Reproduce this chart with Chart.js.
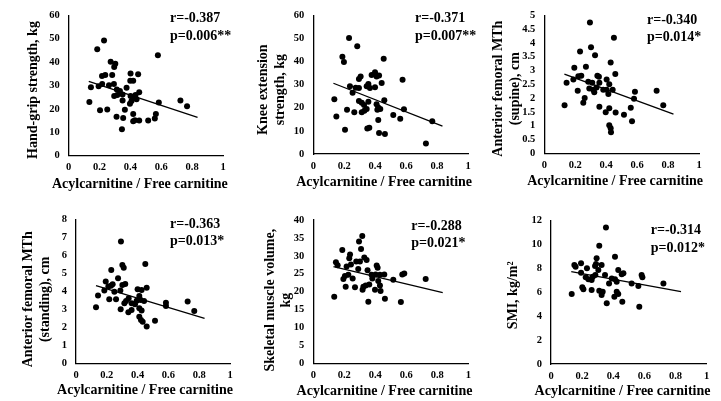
<!DOCTYPE html>
<html>
<head>
<meta charset="utf-8">
<script src="https://cdn.jsdelivr.net/npm/chart.js@4.4.1/dist/chart.umd.min.js"></script>
<style>
body { margin: 0; background: #fff; }
#wrap { position: relative; width: 721px; height: 401px; }
#wrap canvas { position: absolute; }
</style>
</head>
<body>
<div id="wrap"></div>
<script>
// values (x = acylcarnitine / free carnitine ratio)
var xTicks = [0, 0.2, 0.4, 0.6, 0.8, 1];
var xTitle = 'Acylcarnitine / Free carnitine';

var gripX = [0.229,0.185,0.578,0.272,0.302,0.295,0.216,0.237,0.282,0.401,0.45,0.399,0.418,0.144,0.194,0.217,0.261,0.293,0.312,0.332,0.349,0.295,0.315,0.375,0.401,0.418,0.433,0.457,0.407,0.44,0.397,0.349,0.134,0.584,0.724,0.767,0.203,0.25,0.364,0.418,0.31,0.353,0.565,0.558,0.418,0.457,0.515,0.429,0.345];
var gripY = [49.2,45.5,42.9,40.1,39.3,37.9,34.1,34.5,34.5,35.1,34.8,32.0,32.0,29.2,29.7,30.6,30.1,30.6,28.3,27.6,26.2,25.5,25.9,29.0,25.5,24.8,25.9,27.1,23.4,24.1,22.2,23.6,22.9,22.7,23.6,21.1,19.4,19.7,19.6,17.8,16.6,16.1,17.8,15.9,14.7,15.0,15.0,15.2,11.3];

var kneeX = [0.231,0.284,0.188,0.198,0.455,0.399,0.377,0.425,0.409,0.306,0.295,0.577,0.442,0.356,0.345,0.366,0.399,0.237,0.274,0.295,0.254,0.136,0.295,0.313,0.328,0.356,0.459,0.409,0.42,0.433,0.414,0.218,0.265,0.313,0.33,0.345,0.586,0.149,0.517,0.562,0.42,0.769,0.205,0.349,0.362,0.425,0.463,0.728];
var kneeY = [50.2,46.6,42.1,39.8,41.2,35.4,34.2,34.0,33.5,33.5,32.4,32.1,30.7,30.3,29.3,28.6,28.9,29.3,28.7,28.5,26.5,23.7,22.9,22.2,21.2,22.6,23.2,21.5,20.1,19.5,19.1,19.1,18.1,18.1,18.7,19.5,19.4,16.2,16.9,15.2,14.7,14.2,10.5,11.0,11.4,9.1,8.7,4.5];

var supineX = [0.295,0.45,0.302,0.231,0.328,0.429,0.194,0.269,0.459,0.220,0.239,0.343,0.353,0.403,0.144,0.284,0.310,0.356,0.420,0.216,0.291,0.317,0.381,0.403,0.442,0.323,0.414,0.586,0.726,0.261,0.580,0.131,0.252,0.769,0.356,0.420,0.559,0.397,0.461,0.515,0.567,0.420,0.429,0.431,0.188,0.338];
var supineY = [4.74,4.19,3.84,3.69,3.55,3.29,3.10,3.14,2.87,2.79,2.81,2.81,2.77,2.67,2.56,2.59,2.56,2.56,2.50,2.27,2.35,2.30,2.30,2.30,2.30,2.21,2.15,2.23,2.27,2.00,1.98,1.74,1.83,1.74,1.69,1.63,1.65,1.49,1.48,1.40,1.16,1.02,0.91,0.76,2.67,2.38];

var standX = [0.292,0.301,0.31,0.45,0.229,0.273,0.193,0.227,0.21,0.238,0.301,0.32,0.184,0.249,0.288,0.4,0.426,0.459,0.143,0.216,0.26,0.342,0.325,0.411,0.42,0.442,0.314,0.361,0.383,0.394,0.584,0.584,0.725,0.13,0.29,0.361,0.411,0.426,0.768,0.34,0.411,0.422,0.433,0.513,0.459];
var standY = [6.76,5.46,5.31,5.52,5.19,4.72,4.54,4.31,4.26,4.39,4.35,4.41,4.04,3.98,4.04,4.11,4.07,4.20,3.76,3.56,3.56,3.61,3.46,3.74,3.52,3.46,3.33,3.33,3.28,3.48,3.37,3.19,3.43,3.11,3.0,2.96,3.06,2.93,2.91,2.83,2.59,2.41,2.31,2.37,2.04];

var smvX = [0.316,0.295,0.187,0.308,0.237,0.232,0.329,0.344,0.277,0.301,0.146,0.157,0.215,0.243,0.409,0.415,0.35,0.29,0.226,0.204,0.376,0.402,0.43,0.458,0.574,0.587,0.194,0.254,0.381,0.419,0.516,0.725,0.209,0.269,0.323,0.338,0.361,0.43,0.398,0.318,0.434,0.135,0.462,0.355,0.565];
var smvY = [35.5,34.0,31.6,31.9,30.4,29.3,29.5,28.8,28.4,28.4,28.2,27.4,27.0,27.6,27.3,26.7,26.0,26.3,24.7,24.4,24.7,24.8,24.7,24.8,24.8,25.1,23.5,23.7,23.7,23.0,23.3,23.5,21.4,21.2,21.4,21.7,22.0,21.7,20.5,20.5,20.2,18.6,18.0,17.2,17.1];

var smiX = [0.353,0.31,0.411,0.293,0.15,0.193,0.158,0.283,0.289,0.325,0.231,0.432,0.193,0.304,0.347,0.454,0.465,0.582,0.587,0.223,0.24,0.261,0.285,0.268,0.39,0.411,0.422,0.518,0.722,0.373,0.561,0.208,0.201,0.261,0.31,0.332,0.133,0.325,0.422,0.432,0.407,0.458,0.358,0.567];
var smiY = [11.44,9.91,8.99,8.85,8.29,8.43,8.15,8.2,8.37,8.29,8.01,7.87,7.65,7.87,7.45,7.51,7.59,7.45,7.26,7.26,7.09,7.03,7.45,7.3,7.17,7.09,6.89,6.75,6.75,6.75,6.53,6.25,6.42,6.2,6.14,6.06,5.86,5.78,6.06,5.86,5.64,5.22,5.08,4.8];

// regression lines: x range and fitted y at both ends
var trendX = [0.13, 0.835];
var gripTrend = [31.8, 16.4];
var kneeTrend = [30.6, 12.1];
var supineTrend = [2.87, 1.42];
var standTrend = [4.31, 2.5];
var smvTrend = [27.0, 19.7];
var smiTrend = [7.73, 6.06];

var rTexts = ['r=-0.387', 'r=-0.371', 'r=-0.340', 'r=-0.363', 'r=-0.288', 'r=-0.314'];
var pTexts = ['p=0.006**', 'p=0.007**', 'p=0.014*', 'p=0.013*', 'p=0.021*', 'p=0.012*'];

// y axis: max, step, title lines
var yMaxes = [60, 60, 5, 8, 40, 12];
var ySteps = [10, 10, 0.5, 1, 5, 2];
var yTitles = [
  ['Hand-grip strength, kg'],
  ['Knee extension', 'strength, kg'],
  ['Anterior femoral MTh', '(supine), cm'],
  ['Anterior femoral MTh', '(standing), cm'],
  ['Skeletal muscle volume,', 'kg'],
  ['SMI, kg/m\u00b2']
];

var seriesX = [gripX, kneeX, supineX, standX, smvX, smiX];
var seriesY = [gripY, kneeY, supineY, standY, smvY, smiY];
var trends = [gripTrend, kneeTrend, supineTrend, standTrend, smvTrend, smiTrend];

// layout of each panel: canvas box, plot area, title offsets, stat text offset
var boxes = [[0,0,240,200],[240,0,240,200],[480,0,241,200],[0,200,240,201],[240,200,240,201],[480,200,241,201]];
var areas = [[68.7,12.7,223,155.7],[313.3,10.7,468,154],[544.3,10,699,153.3],[76,219.3,230,363.3],[313.3,220,468.3,363.3],[551,220.7,706.7,364]];
var yTitlePos = [[33,4.5],[23.3,5],[18.3,4.4],[28.3,8],[30,8.5],[33.3,3]];   // from canvas left, shift down
var xTitlePos = [[-6,16],[-6.5,17.3],[-6.5,18.3],[-8,10.3],[-6.3,9.3],[-6.3,9.3]]; // shift, from canvas bottom
var statPos = [[-53,3.5],[-53,3.5],[-52,5],[-60,5],[-57,6],[-56,10]];

Chart.defaults.font.family = '"Liberation Serif", "Times New Roman", serif';
Chart.defaults.color = '#000';

var titleFont = 'bold 14px "Liberation Serif", serif';

// axis titles and r / p text
var panelText = {
  id: 'panelText',
  afterDraw: function(chart, args, o) {
    var ctx = chart.ctx, a = chart.chartArea;
    ctx.save();
    ctx.font = titleFont;
    ctx.fillStyle = '#000';
    ctx.textBaseline = 'middle';

    ctx.textAlign = 'left';
    ctx.fillText(o.r, a.right + o.stat[0], a.top + o.stat[1]);
    ctx.fillText(o.p, a.right + o.stat[0], a.top + o.stat[1] + 17.5);

    ctx.textAlign = 'center';
    ctx.fillText(xTitle, (a.left + a.right) / 2 + o.xPos[0], chart.height - o.xPos[1]);

    ctx.translate(o.yPos[0], (a.top + a.bottom) / 2 + o.yPos[1]);
    ctx.rotate(-Math.PI / 2);
    o.yLines.forEach(function(t, k) { ctx.fillText(t, 0, k * 16.8); });
    ctx.restore();
  }
};

function fmt(v) { return String(+v.toFixed(2)); }

var wrap = document.getElementById('wrap');

for (var i = 0; i < 6; i++) {
  var b = boxes[i], ar = areas[i];
  var cv = document.createElement('canvas');
  cv.width = b[2]; cv.height = b[3];
  cv.style.left = b[0] + 'px'; cv.style.top = b[1] + 'px';
  cv.style.width = b[2] + 'px'; cv.style.height = b[3] + 'px';
  wrap.appendChild(cv);

  var pts = seriesX[i].map(function(x, k) { return {x: x, y: seriesY[i][k]}; });
  var line = trendX.map(function(x, k) { return {x: x, y: trends[i][k]}; });

  var yW = ar[0] - b[0];
  var xH = b[1] + b[3] - ar[3];

  new Chart(cv, {
    type: 'scatter',
    data: {
      datasets: [
        { data: pts, pointRadius: 3, backgroundColor: '#000', borderWidth: 0 },
        { data: line, showLine: true, borderColor: '#000', borderWidth: 1.3, pointRadius: 0 }
      ]
    },
    options: {
      responsive: false,
      animation: false,
      events: [],
      layout: { padding: { left: 0, top: ar[1] - b[1], right: b[0] + b[2] - ar[2], bottom: 0 } },
      plugins: {
        legend: { display: false },
        tooltip: { enabled: false },
        panelText: { r: rTexts[i], p: pTexts[i], stat: statPos[i], xPos: xTitlePos[i], yPos: yTitlePos[i], yLines: yTitles[i] }
      },
      scales: {
        x: {
          type: 'linear', min: 0, max: 1,
          afterBuildTicks: function(s) { s.ticks = xTicks.map(function(v) { return {value: v}; }); },
          afterFit: (function(h) { return function(s) { s.height = h; }; })(xH),
          grid: { display: false, drawTicks: false },
          border: { color: '#000', width: 1.3 },
          ticks: { font: { size: 10.5, weight: 'bold' }, padding: 5.5, autoSkip: false, maxRotation: 0, callback: fmt }
        },
        y: {
          min: 0, max: yMaxes[i],
          afterFit: (function(w) { return function(s) { s.width = w; }; })(yW),
          grid: { display: false, drawTicks: false },
          border: { color: '#000', width: 1.3 },
          ticks: { stepSize: ySteps[i], font: { size: 10.5, weight: 'bold' }, padding: 9, autoSkip: false, callback: fmt }
        }
      }
    },
    plugins: [panelText]
  });
}
</script>
</body>
</html>
